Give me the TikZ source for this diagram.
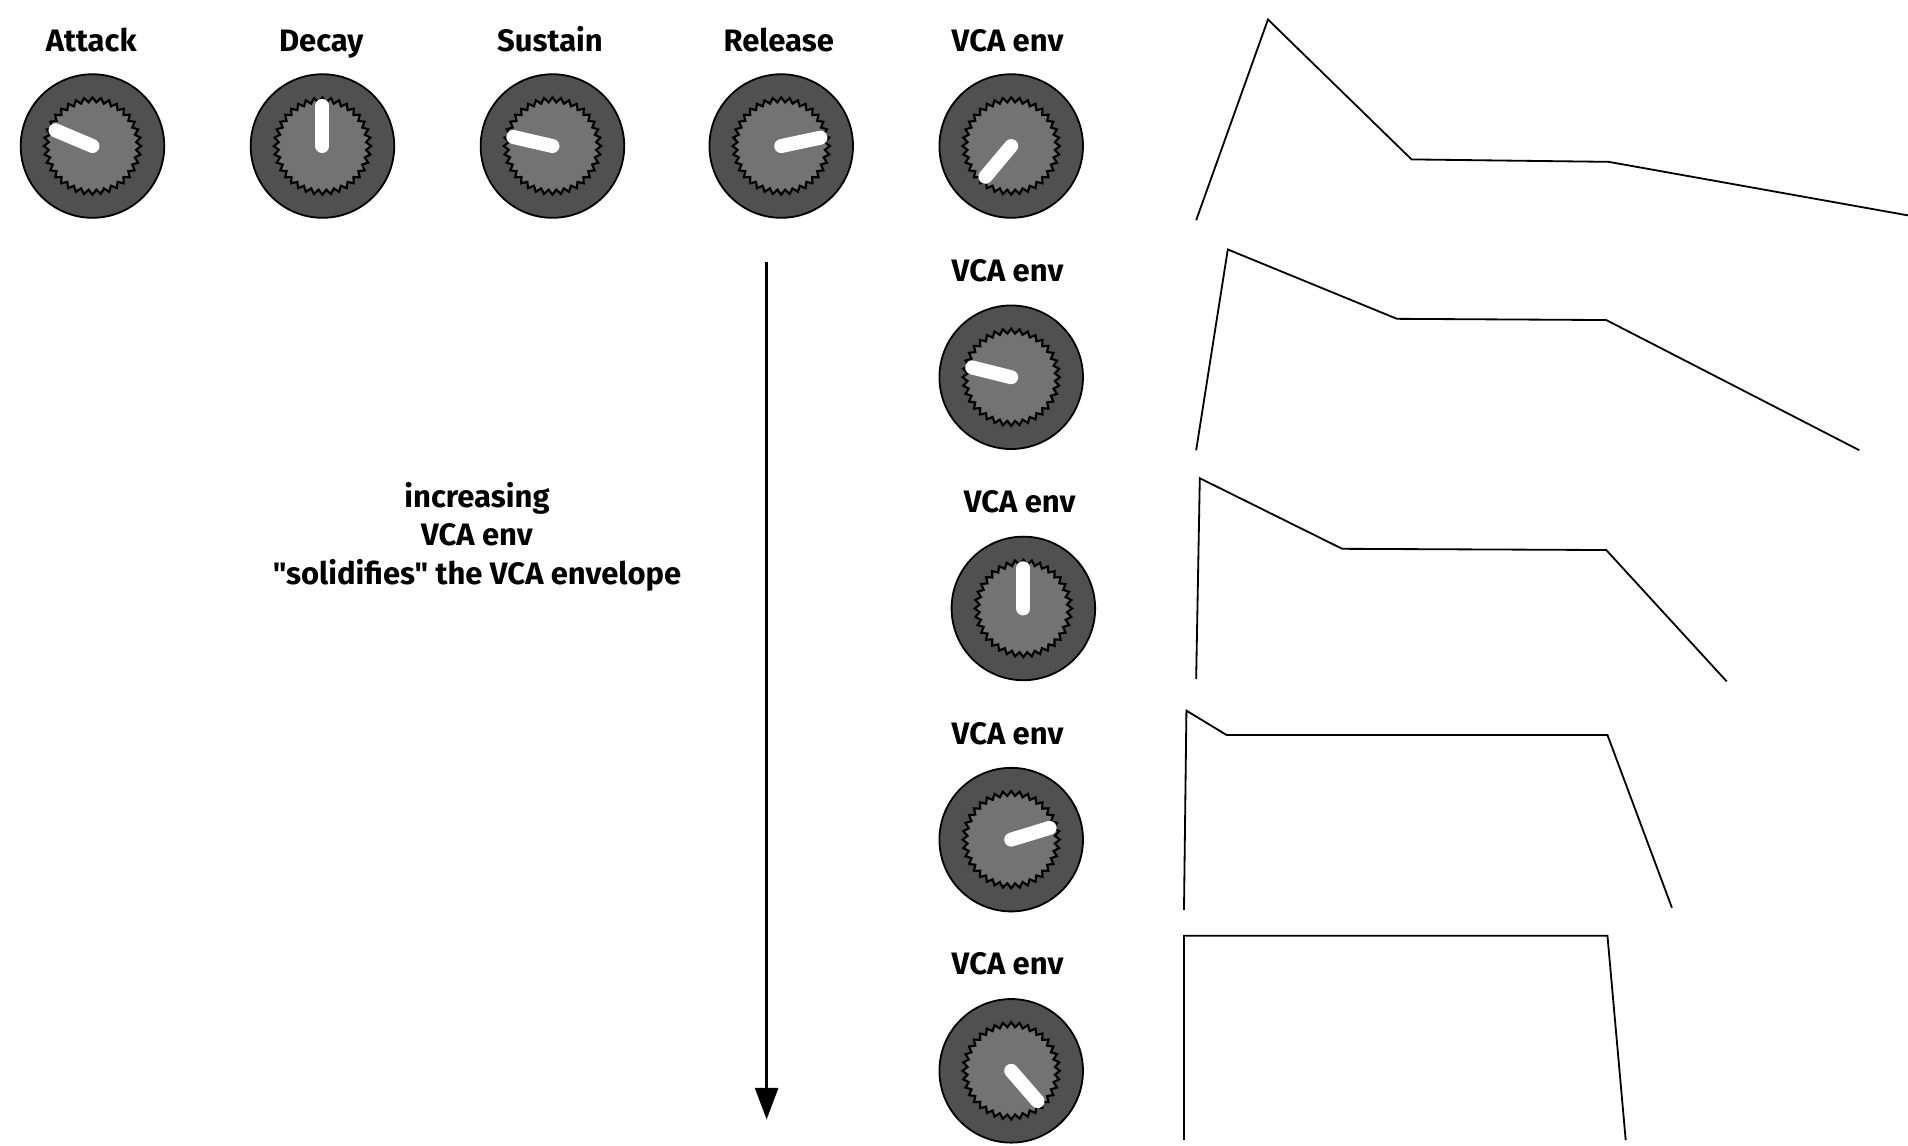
\documentclass[tikz,border=0pt]{standalone}
\usepackage{fontspec}
\setmainfont{Fira Sans}[Ligatures=TeXOff]
\usetikzlibrary{arrows.meta}
\definecolor{knobdark}{RGB}{80,80,80}
\definecolor{knoblight}{RGB}{115,115,115}
\tikzset{
  knobout/.style={circle, fill=knobdark, draw=black, line width=0.85pt, minimum size=2.36cm, inner sep=0pt},
  knobteeth/.style={fill=knoblight, draw=black, line width=1pt, line join=miter},
  pointer/.style={white, line width=0.23cm, line cap=round},
  lbl/.style={font=\bfseries\fontsize{14.5}{18}\selectfont, inner sep=0pt},
  env/.style={black, line width=0.85pt, line join=miter},
}
\newcommand\drawknob[4]{%
  \node[knobout] (#1) at (#2,#3) {};
  \begin{scope}[shift={(#1.center)}]
    \filldraw[knobteeth] plot[domain=0:72, samples=73] ({\x*5}:{mod(round(\x),2)==0 ? 40 : 36}) -- cycle;
  \end{scope}
  \draw[pointer] (#1.center) -- ++({33*cos(#4)},{-33*sin(#4)});
}
\begin{document}
\begin{tikzpicture}[x=0.02cm, y=-0.02cm]
\useasboundingbox (0,0) rectangle (1568,941);
% labels
\node[lbl, anchor=base] (lA) at (75,42) {Attack};
\node[lbl, anchor=base] (lD) at (264,42) {Decay};
\node[lbl, anchor=base] (lS) at (452,42) {Sustain};
\node[lbl, anchor=base] (lR) at (640,42) {Release};
\node[lbl, anchor=base] (lV1) at (828,42) {VCA env};
\node[lbl, anchor=base] (lV2) at (828,231) {VCA env};
\node[lbl, anchor=base] (lV3) at (838,421) {VCA env};
\node[lbl, anchor=base] (lV4) at (828,612) {VCA env};
\node[lbl, anchor=base] (lV5) at (828,801) {VCA env};
% knobs
\drawknob{kA}{76}{120}{157}
\drawknob{kD}{265}{120}{90}
\drawknob{kS}{454}{120}{167}
\drawknob{kR}{642}{120}{12}
\drawknob{kV1}{831}{120}{230}
\drawknob{kV2}{831}{310}{166}
\drawknob{kV3}{841}{500}{90}
\drawknob{kV4}{831}{690}{17}
\drawknob{kV5}{831}{880}{311}
% explanatory text
\node[lbl, align=center] (txt) at (392,441) {increasing\\VCA env\\"solidifies" the VCA envelope};
% arrow
\coordinate (aTop) at (630,215);
\coordinate (aBot) at (630,920);
\draw[line width=1.1pt, -{Triangle[length=0.52cm, width=0.38cm]}] (aTop) -- (aBot);
% envelopes
\draw[env] (983,181) -- (1042,16) -- (1160,131) -- (1322,133) -- (1568,177);
\draw[env] (983,370) -- (1009,205) -- (1148,262) -- (1320,263) -- (1528,370);
\draw[env] (983,558) -- (986,393) -- (1103,451) -- (1320,452) -- (1419,560);
\draw[env] (973,748) -- (975,584) -- (1008,604) -- (1321,604) -- (1374,746);
\draw[env] (973,937) -- (973,769) -- (1321,769) -- (1336,937);
\end{tikzpicture}
\end{document}
